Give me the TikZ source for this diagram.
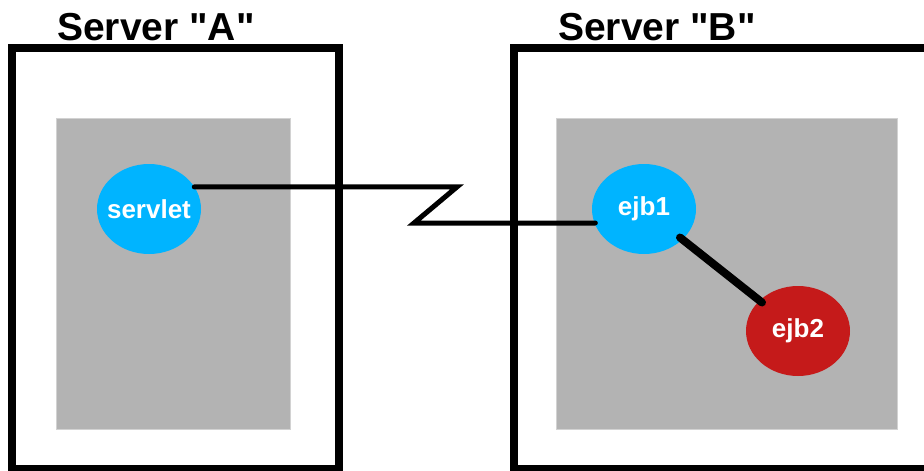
\documentclass[tikz,border=0pt]{standalone}
\usepackage{fontspec}
\setmainfont{Liberation Sans}[Ligatures=TeXOff]
\usetikzlibrary{shapes.geometric}
\definecolor{bean}{RGB}{0,180,255}
\definecolor{beanred}{RGB}{197,26,26}
\definecolor{panel}{RGB}{179,179,179}
\definecolor{panelrim}{RGB}{210,210,210}
\tikzset{
  serverbox/.style={draw=black, line width=7.5pt},
  container/.style={fill=panel, draw=panelrim, line width=0.8pt},
  title/.style={font=\fontsize{39}{44}\selectfont\bfseries, anchor=base, inner sep=0},
  bean/.style={ellipse, fill=#1, minimum width=104pt, minimum height=90pt, inner sep=0, outer sep=0,
    text=white, font=\fontsize{26}{30}\selectfont\bfseries},
  link/.style={draw=black, line width=5pt, line cap=round, line join=miter},
  locallink/.style={draw=black, line width=8pt, line cap=round}
}
\begin{document}
\begin{tikzpicture}[x=1pt, y=-1pt]
\useasboundingbox (0,0) rectangle (924,471);
\clip (0,0) rectangle (924,471);
\fill[white] (0,0) rectangle (924,471);
% Server A
\draw[serverbox] (12,48) rectangle (339,469);
\fill[container] (56,118) rectangle (290,429);
\node[title] (titleA) at (156,40) {Server "A"};
% Server B
\draw[serverbox] (514,48) rectangle (960,469);
\fill[container] (556,118) rectangle (897,429);
\node[title] (titleB) at (657,40) {Server "B"};
% beans
\node[bean=bean] (servlet) at (149,209) {\makebox[0pt]{servlet}};
\node[bean=bean] (ejb1) at (644,209) {\makebox[0pt]{ejb1}};
\node[bean=beanred] (ejb2) at (798,331) {\makebox[0pt]{ejb2}};
% connectors
\coordinate (za) at (457,187);
\coordinate (zb) at (414,223);
\draw[link] (servlet.26) -- (servlet.26 -| za) -- (zb) -- (zb -| ejb1.198);
\draw[locallink, shorten <=-3pt, shorten >=-3pt] (ejb1) -- (ejb2);
\end{tikzpicture}
\end{document}
